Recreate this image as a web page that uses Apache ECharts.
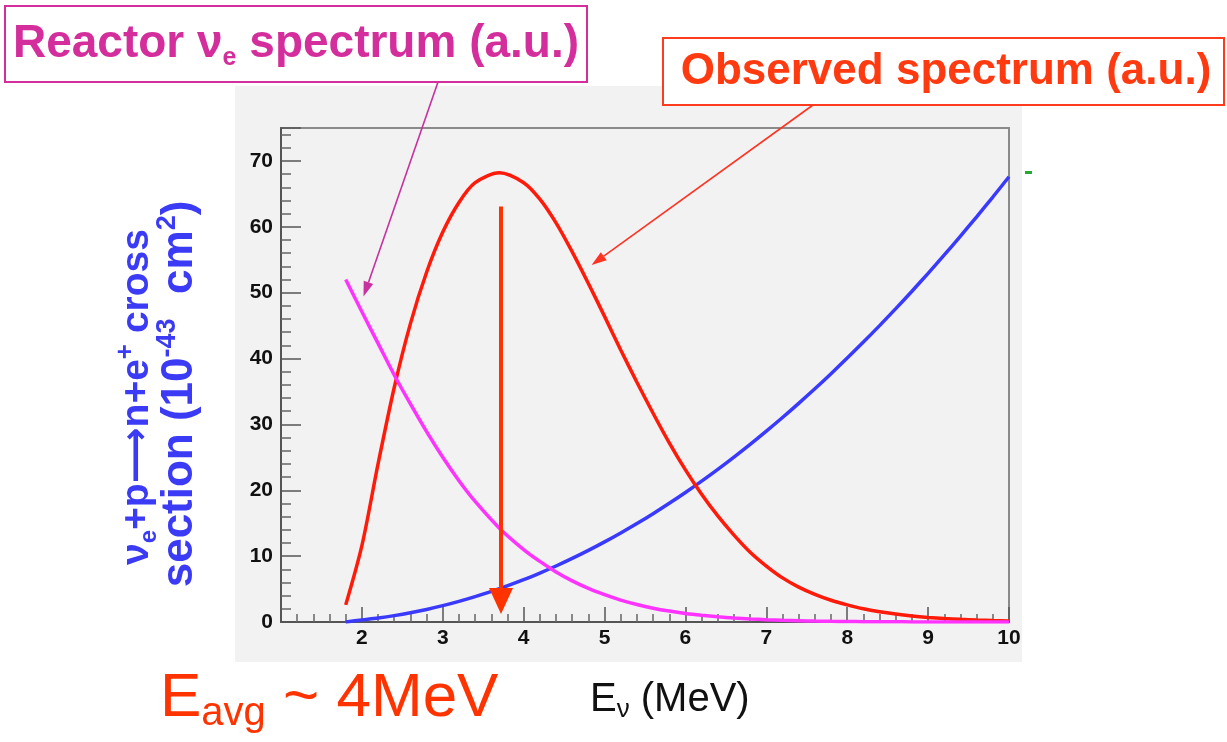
<!DOCTYPE html>
<html>
<head>
<meta charset="utf-8">
<title>Reactor neutrino spectrum</title>
<script src="https://cdn.jsdelivr.net/npm/echarts@6/dist/echarts.min.js"></script>
<style>
  html, body { margin: 0; padding: 0; background: #fff; }
  #chart { width: 1227px; height: 742px; }
</style>
</head>
<body>
<div id="chart"></div>
<script>
// neutrino energy (MeV)
const energy = [1.8, 2.0, 2.2, 2.4, 2.6, 2.8, 3.0, 3.2, 3.4, 3.7, 4.0, 4.2, 4.4,
  4.6, 4.8, 5.0, 5.2, 5.4, 5.6, 5.8, 6.0, 6.2, 6.4, 6.6, 6.8, 7.0, 7.2,
  7.4, 7.6, 7.8, 8.0, 8.2, 8.4, 8.6, 8.8, 9.0, 9.2, 9.4, 9.6, 9.8, 10.0];
// observed spectrum (a.u.)
const observed = [2.6, 11.6, 24.0, 35.6, 45.3, 53.1, 59.2, 63.7, 66.7, 68.2, 66.7, 64.2, 60.6,
  56.2, 51.4, 46.4, 41.3, 36.4, 31.7, 27.2, 23.1, 19.4, 16.1, 13.2, 10.6, 8.5, 6.7,
  5.3, 4.2, 3.3, 2.6, 2.0, 1.55, 1.2, 0.92, 0.7, 0.53, 0.4, 0.3, 0.22, 0.16];
// reactor anti-nu_e flux (a.u.)
const reactorFlux = [52.0, 47.1, 42.3, 37.5, 33.1, 28.9, 25.0, 21.45, 18.3, 14.25, 11.0, 9.2, 7.6,
  6.25, 5.1, 4.15, 3.33, 2.66, 2.1, 1.66, 1.3, 1.02, 0.79, 0.6, 0.46, 0.35, 0.26,
  0.2, 0.14, 0.1, 0.07, 0.05, 0.035, 0.025, 0.017, 0.012, 0.008, 0.005, 0.003, 0.002, 0.001];
// inverse beta decay cross section (1e-43 cm^2)
const crossSection = [0.0, 0.31, 0.61, 0.97, 1.40, 1.91, 2.48, 3.13, 3.85, 5.06, 6.43, 7.43, 8.50,
  9.65, 10.87, 12.16, 13.52, 14.95, 16.45, 18.03, 19.67, 21.39, 23.18, 25.04, 26.97, 28.98, 31.05,
  33.20, 35.41, 37.70, 40.07, 42.50, 45.00, 47.57, 50.22, 52.94, 55.73, 58.59, 61.52, 64.52, 67.6];

const xRange = [1, 10];
const yRange = [0, 75];
const eAvg = 3.72;          // where the average-energy arrow sits
const eAvgArrow = [63.1, 3.2];

const toPairs = ys => energy.map((x, i) => [x, ys[i]]);

const sansBold = "'Liberation Sans', 'DejaVu Sans', sans-serif";
const BLUE = '#3b3bf5';

const chart = echarts.init(document.getElementById('chart'));

chart.setOption({
  animation: false,
  backgroundColor: '#ffffff',
  grid: {
    left: 281, right: 218, top: 128, bottom: 120,
    show: true,
    borderColor: '#8a8a8a',
    borderWidth: 2,
    backgroundColor: 'transparent'
  },
  xAxis: {
    type: 'value',
    min: xRange[0],
    max: xRange[1],
    interval: 1,
    axisLine: { lineStyle: { color: '#555', width: 2 } },
    axisTick: { inside: true, length: 15, lineStyle: { color: '#555', width: 1.5 } },
    minorTick: { show: true, splitNumber: 5, length: 8, lineStyle: { color: '#666', width: 1.5 } },
    splitLine: { show: false },
    axisLabel: {
      showMinLabel: false,
      color: '#111', fontSize: 21, fontWeight: 'bold', fontFamily: sansBold, margin: 6
    }
  },
  yAxis: {
    type: 'value',
    min: yRange[0],
    max: yRange[1],
    interval: 10,
    axisLine: { show: true, lineStyle: { color: '#555', width: 2 } },
    axisTick: { inside: true, length: 20, lineStyle: { color: '#555', width: 1.5 } },
    minorTick: { show: true, splitNumber: 5, length: 10, lineStyle: { color: '#666', width: 1.5 } },
    splitLine: { show: false },
    axisLabel: {
      showMaxLabel: false,
      color: '#111', fontSize: 21, fontWeight: 'bold', fontFamily: sansBold, margin: 8
    }
  },
  series: [
    {
      name: 'cross section',
      type: 'line',
      data: toPairs(crossSection),
      smooth: 0.3,
      showSymbol: false,
      lineStyle: { color: '#3a3aff', width: 3.5 },
      z: 2
    },
    {
      name: 'observed',
      type: 'line',
      data: toPairs(observed),
      smooth: 0.3,
      showSymbol: false,
      lineStyle: { color: '#ff1a0a', width: 3.5 },
      z: 3,
      markLine: {
        silent: true,
        symbol: ['none', 'triangle'],
        symbolSize: [24, 26],
        label: { show: false },
        lineStyle: { color: '#ff3300', width: 4, type: 'solid' },
        data: [[{ coord: [eAvg, eAvgArrow[0]] }, { coord: [eAvg, eAvgArrow[1]] }]]
      }
    },
    {
      name: 'reactor',
      type: 'line',
      data: toPairs(reactorFlux),
      smooth: 0.3,
      showSymbol: false,
      lineStyle: { color: '#ff33ff', width: 3.5 },
      z: 4
    }
  ]
});

// pointer arrows from the label boxes, tips given in data coords
function arrow(from, tipData, color) {
  const t = chart.convertToPixel({ gridIndex: 0 }, tipData);
  const dx = t[0] - from[0], dy = t[1] - from[1];
  const len = Math.sqrt(dx * dx + dy * dy);
  const ux = dx / len, uy = dy / len;
  const L = 15, W = 10;
  const bx = t[0] - ux * L, by = t[1] - uy * L;
  return [
    { type: 'line', shape: { x1: from[0], y1: from[1], x2: bx, y2: by },
      style: { stroke: color, lineWidth: 1.6 }, z: 20 },
    { type: 'polygon', shape: { points: [t, [bx - uy * W / 2, by + ux * W / 2], [bx + uy * W / 2, by - ux * W / 2]] },
      style: { fill: color }, z: 20 }
  ];
}

const graphics = [
  // grey panel behind the plot
  { type: 'rect', shape: { x: 235, y: 86, width: 787, height: 576 },
    style: { fill: '#f2f2f2' }, z: -100, silent: true },
  // stray green mark right of the frame
  { type: 'rect', shape: { x: 1025, y: 171, width: 7, height: 3 }, style: { fill: '#22aa33' } },

  // reactor label box
  { type: 'rect', shape: { x: 5, y: 6, width: 582, height: 76 },
    style: { fill: '#ffffff', stroke: '#d42d9c', lineWidth: 2 }, z: 10 },
  { type: 'text', x: 296, y: 44, z: 11,
    style: {
      text: '{m|Reactor ν}{s|e}{m| spectrum (a.u.)}',
      align: 'center', verticalAlign: 'middle',
      rich: {
        m: { fill: '#d42d9c', fontSize: 46, fontWeight: 'bold', fontFamily: sansBold, lineHeight: 54, verticalAlign: 'middle' },
        s: { fill: '#d42d9c', fontSize: 25, fontWeight: 'bold', fontFamily: sansBold, lineHeight: 18, verticalAlign: 'bottom' }
      }
    }
  },

  // observed label box
  { type: 'rect', shape: { x: 663, y: 38, width: 561, height: 67 },
    style: { fill: '#ffffff', stroke: '#ff3b1f', lineWidth: 2 }, z: 10 },
  { type: 'text', x: 946, y: 72, z: 11,
    style: {
      text: 'Observed spectrum (a.u.)',
      align: 'center', verticalAlign: 'middle',
      fill: '#ff3a10', fontSize: 44, fontWeight: 'bold', fontFamily: sansBold
    }
  },

  // y-axis title, two rotated lines
  { type: 'text', x: 137, y: 397, rotation: Math.PI / 2, z: 11,
    style: {
      text: '{m|ν}{sb|e}{m|+p⟶n+e}{sp|+}{m| cross}',
      align: 'center', verticalAlign: 'middle',
      rich: {
        m: { fill: BLUE, fontSize: 39, fontWeight: 'bold', fontFamily: sansBold, lineHeight: 48, verticalAlign: 'middle' },
        sb: { fill: BLUE, fontSize: 24, fontWeight: 'bold', fontFamily: sansBold, lineHeight: 16, verticalAlign: 'bottom' },
        sp: { fill: BLUE, fontSize: 26, fontWeight: 'bold', fontFamily: sansBold, lineHeight: 18, verticalAlign: 'top' }
      }
    }
  },
  { type: 'text', x: 180, y: 394, rotation: Math.PI / 2, z: 11,
    style: {
      text: '{m|section (10}{sp|-43}{m|  cm}{sp|2}{m|)}',
      align: 'center', verticalAlign: 'middle',
      rich: {
        m: { fill: BLUE, fontSize: 44, fontWeight: 'bold', fontFamily: sansBold, lineHeight: 52, verticalAlign: 'middle' },
        sp: { fill: BLUE, fontSize: 27, fontWeight: 'bold', fontFamily: sansBold, lineHeight: 18, verticalAlign: 'top' }
      }
    }
  },

  // x-axis title
  { type: 'text', x: 590, y: 677, z: 11,
    style: {
      text: '{m|E}{s|ν}{m| (MeV)}',
      align: 'left', verticalAlign: 'top',
      rich: {
        m: { fill: '#111', fontSize: 40, fontFamily: sansBold, lineHeight: 46, verticalAlign: 'middle' },
        s: { fill: '#111', fontSize: 26, fontFamily: sansBold, lineHeight: 12, verticalAlign: 'bottom' }
      }
    }
  },

  // average energy note
  { type: 'text', x: 160, y: 664, z: 11,
    style: {
      text: '{m|E}{s|avg}{m| ~ 4MeV}',
      align: 'left', verticalAlign: 'top',
      rich: {
        m: { fill: '#ff3300', fontSize: 62, fontFamily: sansBold, lineHeight: 70, verticalAlign: 'middle' },
        s: { fill: '#ff3300', fontSize: 40, fontFamily: sansBold, lineHeight: 16, verticalAlign: 'bottom' }
      }
    }
  }
];

graphics.push(...arrow([438, 82], [2.02, 49.4], '#c8319e'));
graphics.push(...arrow([813, 105], [4.84, 54.2], '#ff3322'));

chart.setOption({ graphic: graphics });
</script>
</body>
</html>
